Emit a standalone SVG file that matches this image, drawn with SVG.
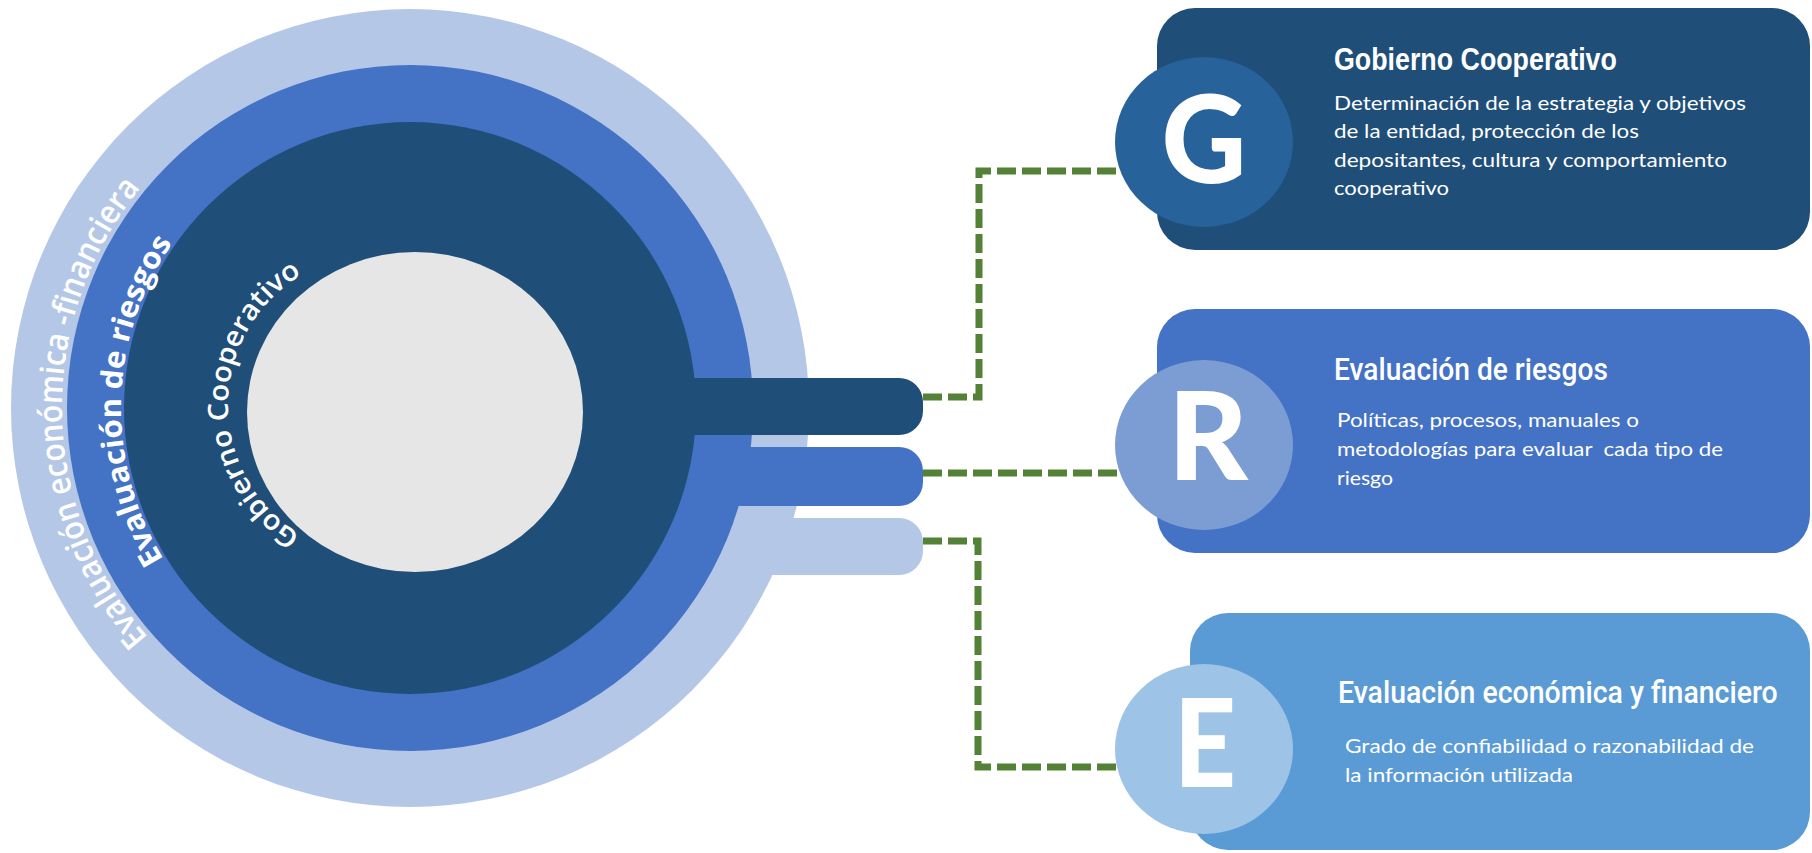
<svg xmlns="http://www.w3.org/2000/svg" width="1812" height="853" viewBox="0 0 1812 853">
  <style>
    .ring-light { fill: #B4C7E7; }
    .ring-mid { fill: #4472C4; }
    .ring-dark { fill: #1F4E79; }
    .core { fill: #E6E6E6; }
    .link { fill: none; stroke: #538135; stroke-width: 7; stroke-dasharray: 19 6; }
    .arc-text { fill: #FFFFFF; font-family: "Open Sans", "Noto Sans", sans-serif; }
    .title { fill: #FFFFFF; font-size: 31px; }
    .title-bold { font-family: "Liberation Sans", sans-serif; font-weight: bold; }
    .title-mid { font-family: Roboto, "Liberation Sans", sans-serif; font-weight: 500; }
    .body { fill: #FFFFFF; font-family: Lato, "Open Sans", sans-serif; font-size: 19px; white-space: pre; }
    .badge { fill: #FFFFFF; font-family: Lato, "Liberation Sans", sans-serif; font-weight: 900; font-size: 122px; text-anchor: middle; }
  </style>
  <defs>
    <path id="arc-outer" d="M 410 756 A 348 348 0 0 1 410 60"/>
    <path id="arc-middle" d="M 410 697 A 289 289 0 0 1 410 119"/>
    <path id="arc-inner" d="M 380 557 A 152 152 0 0 1 380 253"/>
  </defs>

  <!-- concentric rings with their tabs -->
  <g id="rings">
    <circle class="ring-light" cx="410" cy="408" r="399"/>
    <rect class="ring-light" x="410" y="518" width="513" height="57" rx="24"/>
    <circle class="ring-mid" cx="410" cy="408" r="343"/>
    <rect class="ring-mid" x="410" y="447" width="513" height="59" rx="24"/>
    <circle class="ring-dark" cx="410" cy="408" r="286"/>
    <rect class="ring-dark" x="410" y="378" width="513" height="57" rx="24"/>
    <ellipse class="core" cx="415" cy="412" rx="168" ry="160"/>
    <text class="arc-text" font-size="33" font-weight="600" transform="rotate(-1 410 408)"><textPath href="#arc-outer" startOffset="50%" text-anchor="middle" textLength="489" lengthAdjust="spacingAndGlyphs">Evaluación económica -financiera</textPath></text>
    <text class="arc-text" font-size="30" font-weight="700" transform="rotate(1.6 410 408)"><textPath href="#arc-middle" startOffset="50%" text-anchor="middle" textLength="335" lengthAdjust="spacingAndGlyphs">Evaluación de riesgos</textPath></text>
    <text class="arc-text" font-size="28" font-weight="600" transform="rotate(0.3 380 405)"><textPath href="#arc-inner" startOffset="50%" text-anchor="middle" textLength="312" lengthAdjust="spacingAndGlyphs">Gobierno Cooperativo</textPath></text>
  </g>

  <!-- dashed links from the tabs to the cards -->
  <g id="connectors">
    <path class="link" d="M 923 397 H 979 V 171 H 1125"/>
    <path class="link" d="M 923 473 H 1125"/>
    <path class="link" d="M 923 541 H 978 V 767 H 1125"/>
  </g>

  <g id="node-g">
    <rect x="1157" y="8" width="653" height="242" rx="38" fill="#1F4E79"/>
    <ellipse cx="1204" cy="142" rx="89" ry="85" fill="#27629A"/>
    <text class="badge" x="1204" y="183" textLength="85" lengthAdjust="spacingAndGlyphs">G</text>
    <text class="title title-bold" transform="translate(1334 70) scale(0.865 1)" textLength="327" lengthAdjust="spacingAndGlyphs">Gobierno Cooperativo</text>
    <text class="body" x="1334" y="110" textLength="412" lengthAdjust="spacingAndGlyphs">Determinación de la estrategia y objetivos</text>
    <text class="body" x="1334" y="138" textLength="305" lengthAdjust="spacingAndGlyphs">de la entidad, protección de los</text>
    <text class="body" x="1334" y="167" textLength="393" lengthAdjust="spacingAndGlyphs">depositantes, cultura y comportamiento</text>
    <text class="body" x="1334" y="195" textLength="115" lengthAdjust="spacingAndGlyphs">cooperativo</text>
  </g>

  <g id="node-r">
    <rect x="1157" y="309" width="653" height="244" rx="38" fill="#4472C4"/>
    <ellipse cx="1204" cy="445" rx="89" ry="85" fill="#7C9CD4"/>
    <text class="badge" x="1208" y="480" textLength="80" lengthAdjust="spacingAndGlyphs">R</text>
    <text class="title title-mid" transform="translate(1334 380) scale(0.91 1)" textLength="301" lengthAdjust="spacingAndGlyphs">Evaluación de riesgos</text>
    <text class="body" x="1337" y="427" textLength="302" lengthAdjust="spacingAndGlyphs">Políticas, procesos, manuales o</text>
    <text class="body" x="1337" y="456" textLength="386" lengthAdjust="spacingAndGlyphs">metodologías para evaluar  cada tipo de</text>
    <text class="body" x="1337" y="485" textLength="56" lengthAdjust="spacingAndGlyphs">riesgo</text>
  </g>

  <g id="node-e">
    <rect x="1190" y="613" width="620" height="237" rx="38" fill="#5B9BD5"/>
    <ellipse cx="1204" cy="749" rx="89" ry="85" fill="#9DC3E6"/>
    <text class="badge" x="1205" y="787" textLength="62" lengthAdjust="spacingAndGlyphs">E</text>
    <text class="title title-mid" transform="translate(1338 703) scale(0.92 1)" textLength="478" lengthAdjust="spacingAndGlyphs">Evaluación económica y financiero</text>
    <text class="body" x="1345" y="753" textLength="409" lengthAdjust="spacingAndGlyphs">Grado de confiabilidad o razonabilidad de</text>
    <text class="body" x="1345" y="782" textLength="228" lengthAdjust="spacingAndGlyphs">la información utilizada</text>
  </g>
</svg>
